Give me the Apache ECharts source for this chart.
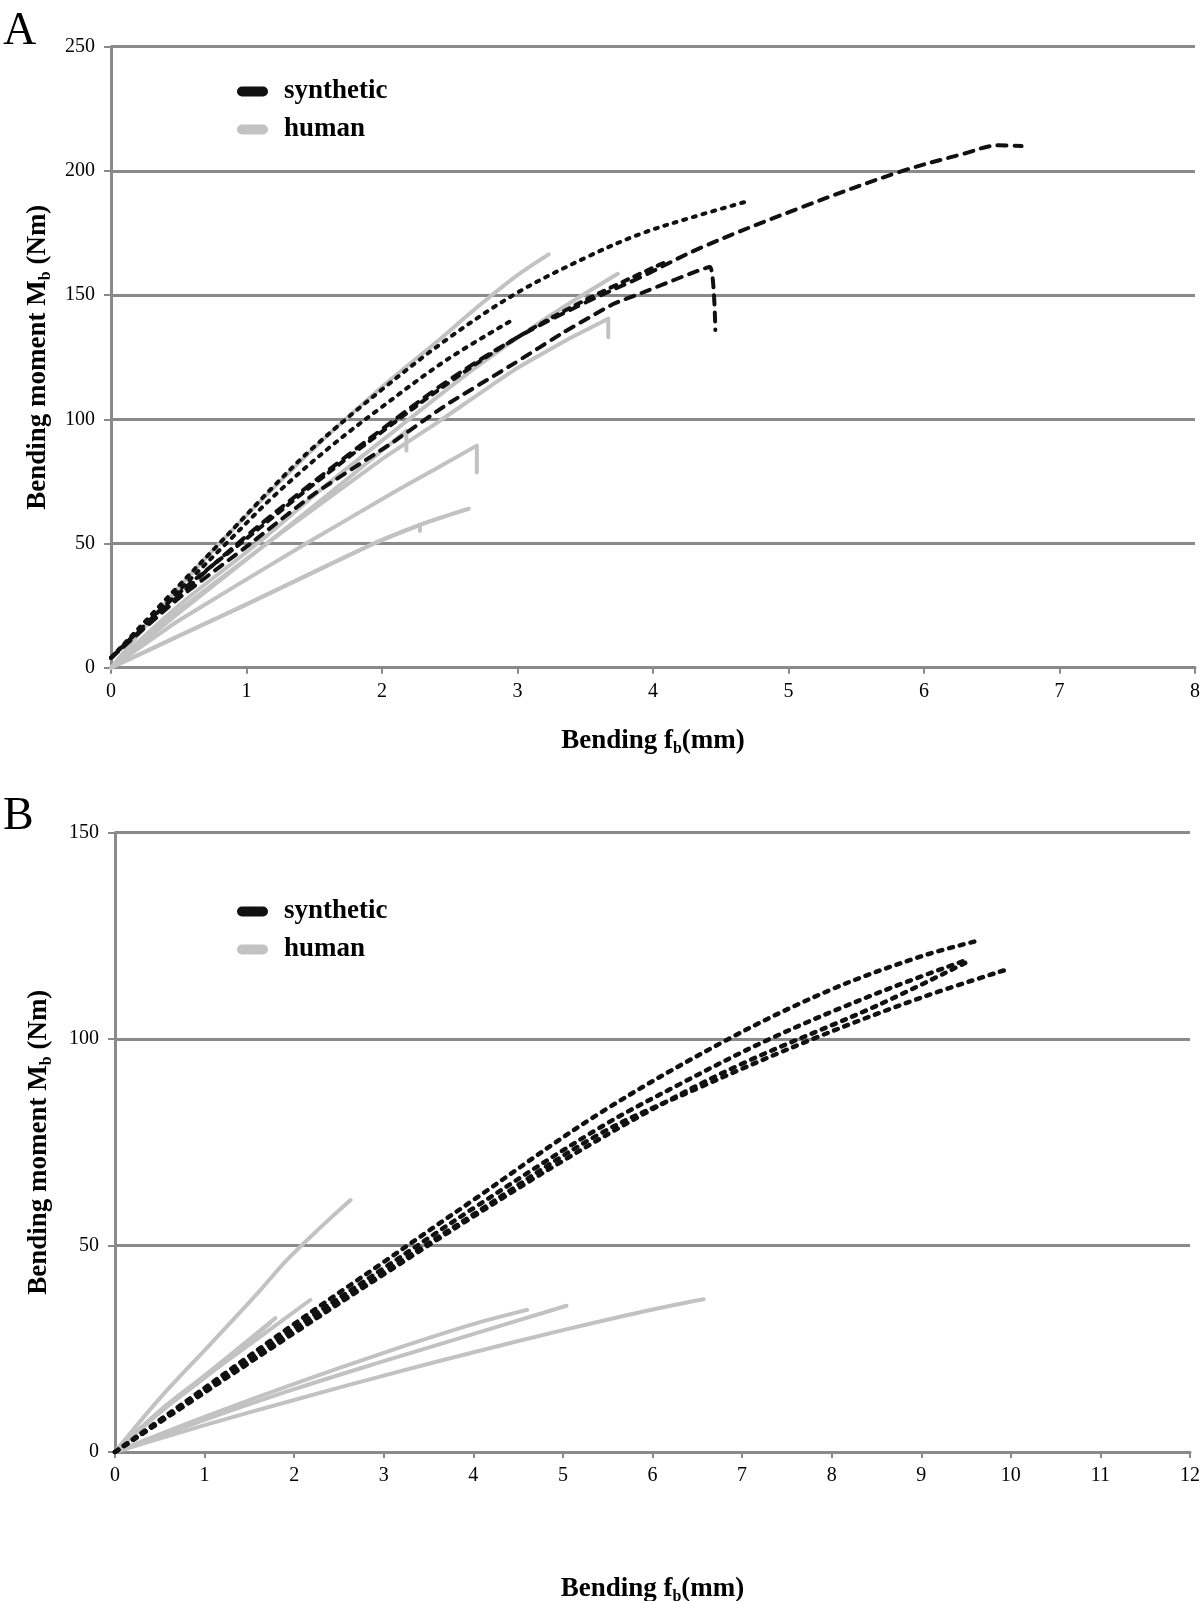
<!DOCTYPE html>
<html>
<head>
<meta charset="utf-8">
<script src="https://cdn.jsdelivr.net/npm/echarts@6/dist/echarts.min.js"></script>
<style>
html,body{margin:0;padding:0;background:#fff;}
#chart{width:1200px;height:1601px;}
</style>
</head>
<body>
<div id="chart"></div>
<script>
// ---------- tick labels ----------
const A_xTicks = [0, 1, 2, 3, 4, 5, 6, 7, 8];
const A_yTicks = [0, 50, 100, 150, 200, 250];
const B_xTicks = [0, 1, 2, 3, 4, 5, 6, 7, 8, 9, 10, 11, 12];
const B_yTicks = [0, 50, 100, 150];

// ---------- Panel A : synthetic (x = bending mm, y = moment Nm) ----------
const A_syn1 = [[0,4],[0.5,29],[1,53],[1.5,75],[2,96],[2.5,116],[3,133],[3.5,147],[3.9,157],[4.35,169],[5.08,185],[5.82,199.6],[6.3,207],[6.55,210.3],[6.72,210]];
const A_syn2 = [[0,4],[0.5,33],[0.8,50],[1.2,73],[1.5,89],[2,112],[2.5,133],[3,151],[3.5,165],[3.9,174.5],[4.3,181.5],[4.68,187.5]];
const A_syn3 = [[0,4],[0.5,31],[0.85,50],[1.2,69],[1.62,89],[2,105],[2.48,124],[2.98,140.5]];
const A_syn4 = [[0,4],[0.5,28],[1.03,50],[1.5,70],[2.06,90],[2.48,106],[2.97,122.3],[3.34,135],[3.71,146.5],[3.9,150.5],[4.42,161.3],[4.46,136]];
const A_syn5 = [[0,4],[0.5,30],[1,52],[1.5,74],[2,95],[2.5,115],[3,133],[3.5,148],[4.1,163.5]];

// ---------- Panel A : human ----------
const A_hum1 = [[0,0],[0.4,26],[0.8,50],[1.48,87.4],[2,113],[2.4,131],[2.7,145],[3,158],[3.23,166.4]];
const A_hum2 = [[0,0],[0.5,25],[1.08,50],[1.6,74],[2.2,100],[2.72,122],[3.22,141],[3.74,158.6]];
const A_hum3 = [[0,0],[0.5,23],[1.15,50],[2,84],[2.43,99.5],[2.98,120],[3.4,133],[3.67,140.5],[3.67,133]];
const A_hum4 = [[0,0],[0.5,22],[1.15,50],[1.7,74],[2.18,95.4],[2.18,87.4]];
const A_hum5 = [[0,0],[0.5,19],[1.44,50],[2.1,71],[2.7,89.4],[2.7,78.6]];
const A_hum6 = [[0,0],[0.5,12.8],[0.98,25],[1.94,50],[2.28,57.5],[2.64,64]];
const A_hum7 = [[0,0],[1,25.5],[1.94,50],[2.28,57.5],[2.28,55]];

// ---------- Panel B : synthetic ----------
const B_syn1 = [[0,0],[1,15.5],[2,31],[3,46],[4,61],[5.41,82],[6.85,100],[8,112],[9,120],[9.6,123.6]];
const B_syn2 = [[0,0],[1,15],[2,30],[3,44.5],[4,59],[5.41,78.5],[6.3,89],[7.31,100],[8.5,111],[9.53,119.3]];
const B_syn3 = [[0,0],[1,14.7],[2,29.3],[3,43.5],[4,57.5],[5.41,77],[6.5,88],[7.79,100],[9,110],[9.94,116.7]];
const B_syn4 = [[0,0],[1,14.4],[2,28.8],[3,43],[4,57],[5,70.5],[6,83],[7,94],[8.5,108],[9.5,118.5]];

// ---------- Panel B : human ----------
const B_hum1 = [[0,0],[0.5,13],[1.06,26],[1.59,38.4],[1.92,46.5],[2.3,54.5],[2.63,61]];
const B_hum2 = [[0,0],[0.5,9.5],[1,18],[1.5,26],[2.18,36.8]];
const B_hum3 = [[0,0],[0.5,10],[1,18.5],[1.4,25.5],[1.79,32.4]];
const B_hum4 = [[0,0],[0.5,9.7],[1,18],[1.73,31.2]];
const B_hum5 = [[0,0],[1,8.5],[2,16.5],[3,24],[3.96,30.7],[4.6,34.4]];
const B_hum6 = [[0,0],[1,7.8],[2,15.2],[3,22],[3.96,28.3],[5.04,35.4]];
const B_hum7 = [[0,0],[1,6.5],[2,12.6],[3,18.5],[3.96,23.9],[5,29.5],[6,34.5],[6.57,37]];

// ---------- styles ----------
const FONT = '"Liberation Serif", "Times New Roman", serif';
const AXIS_GRAY = '#8a8a8a';
const BLACK = '#111111';
const LIGHT = '#c2c2c2';
const PILL = 'path://M5,0 L26,0 A5,5 0 0 1 26,10 L5,10 A5,5 0 0 1 5,0 Z';

function human(data, g, sm) {
  return {
    type: 'line', name: 'human', data: data, xAxisIndex: g, yAxisIndex: g,
    showSymbol: false, smooth: sm === undefined ? 0.35 : sm, z: 2,
    itemStyle: { color: LIGHT },
    lineStyle: { color: LIGHT, width: 4, cap: 'round', join: 'round' }
  };
}
function synthetic(data, g, dash, sm, w) {
  return {
    type: 'line', name: 'synthetic', data: data, xAxisIndex: g, yAxisIndex: g,
    showSymbol: false, smooth: sm === undefined ? 0.35 : sm, z: 3,
    itemStyle: { color: BLACK },
    lineStyle: { color: BLACK, width: w || 4, type: dash, cap: 'round', join: 'round' }
  };
}

function xAxis(ticks, g, gap) {
  return {
    type: 'value', gridIndex: g,
    min: ticks[0], max: ticks[ticks.length - 1], interval: ticks[1] - ticks[0],
    name: '{t|Bending f}{s|b}{t|(mm)}', nameLocation: 'middle', nameGap: gap,
    nameTextStyle: {
      rich: {
        t: { fontFamily: FONT, fontWeight: 'bold', fontSize: 27, color: '#000' },
        s: { fontFamily: FONT, fontWeight: 'bold', fontSize: 16, color: '#000', padding: [16, 0, 0, 0] }
      }
    },
    axisLine: { show: true, onZero: false, lineStyle: { color: AXIS_GRAY, width: 3 } },
    axisTick: { show: true, length: 6, lineStyle: { color: AXIS_GRAY, width: 2 } },
    axisLabel: { fontFamily: FONT, fontSize: 20, color: '#000', margin: 14 },
    splitLine: { show: false }
  };
}
function yAxis(ticks, g, gap) {
  return {
    type: 'value', gridIndex: g,
    min: ticks[0], max: ticks[ticks.length - 1], interval: ticks[1] - ticks[0],
    name: '{t|Bending moment M}{s|b}{t| (Nm)}', nameLocation: 'middle', nameGap: gap,
    nameTextStyle: {
      rich: {
        t: { fontFamily: FONT, fontWeight: 'bold', fontSize: 27, color: '#000' },
        s: { fontFamily: FONT, fontWeight: 'bold', fontSize: 16, color: '#000', padding: [16, 0, 0, 0] }
      }
    },
    axisLine: { show: true, onZero: false, lineStyle: { color: AXIS_GRAY, width: 3 } },
    axisTick: { show: true, length: 7, lineStyle: { color: AXIS_GRAY, width: 2 } },
    axisLabel: { fontFamily: FONT, fontSize: 20, color: '#000', margin: 16 },
    splitLine: { show: true, lineStyle: { color: AXIS_GRAY, width: 3 } }
  };
}
function legend(top) {
  return {
    orient: 'vertical', left: 232, top: top, itemGap: 11,
    itemWidth: 31, itemHeight: 11, icon: PILL,
    selectedMode: false,
    textStyle: { fontFamily: FONT, fontWeight: 'bold', fontSize: 27, color: '#000', padding: [0, 0, 0, 11] },
    data: [
      { name: 'synthetic', itemStyle: { color: BLACK, borderWidth: 0 } },
      { name: 'human', itemStyle: { color: LIGHT, borderWidth: 0 } }
    ]
  };
}

const DASH = [9, 8];
const DOT = [3, 7];
const DOTB = [4, 7];

const option = {
  animation: false,
  backgroundColor: '#ffffff',
  grid: [
    { left: 111, top: 46.7, width: 1084, height: 621, outerBoundsMode: 'none', containLabel: false },
    { left: 115, top: 832.4, width: 1075, height: 619.6, outerBoundsMode: 'none', containLabel: false }
  ],
  xAxis: [xAxis(A_xTicks, 0, 57), xAxis(B_xTicks, 1, 121)],
  yAxis: [yAxis(A_yTicks, 0, 55), yAxis(B_yTicks, 1, 60)],
  legend: [legend(73), legend(893)],
  graphic: [
    { type: 'text', left: 3, top: 9, style: { text: 'A', font: '46px ' + FONT, fill: '#000' } },
    { type: 'text', left: 3, top: 794, style: { text: 'B', font: '46px ' + FONT, fill: '#000' } }
  ],
  series: [
    human(A_hum1, 0), human(A_hum2, 0), human(A_hum3, 0, 0.12), human(A_hum4, 0, 0.1),
    human(A_hum5, 0, 0.1), human(A_hum6, 0), human(A_hum7, 0, 0.1),
    synthetic(A_syn1, 0, DASH), synthetic(A_syn2, 0, DOT), synthetic(A_syn3, 0, DOT),
    synthetic(A_syn4, 0, DASH, 0.12), synthetic(A_syn5, 0, [6, 7]),
    human(B_hum1, 1), human(B_hum2, 1), human(B_hum3, 1), human(B_hum4, 1),
    human(B_hum5, 1), human(B_hum6, 1), human(B_hum7, 1),
    synthetic(B_syn1, 1, DOTB, 0.35, 4.5), synthetic(B_syn2, 1, DOTB, 0.35, 4.5),
    synthetic(B_syn3, 1, DOTB, 0.35, 4.5), synthetic(B_syn4, 1, DOTB, 0.35, 4.5)
  ]
};

const chart = echarts.init(document.getElementById('chart'), null, { renderer: 'canvas' });
chart.setOption(option);
</script>
</body>
</html>
